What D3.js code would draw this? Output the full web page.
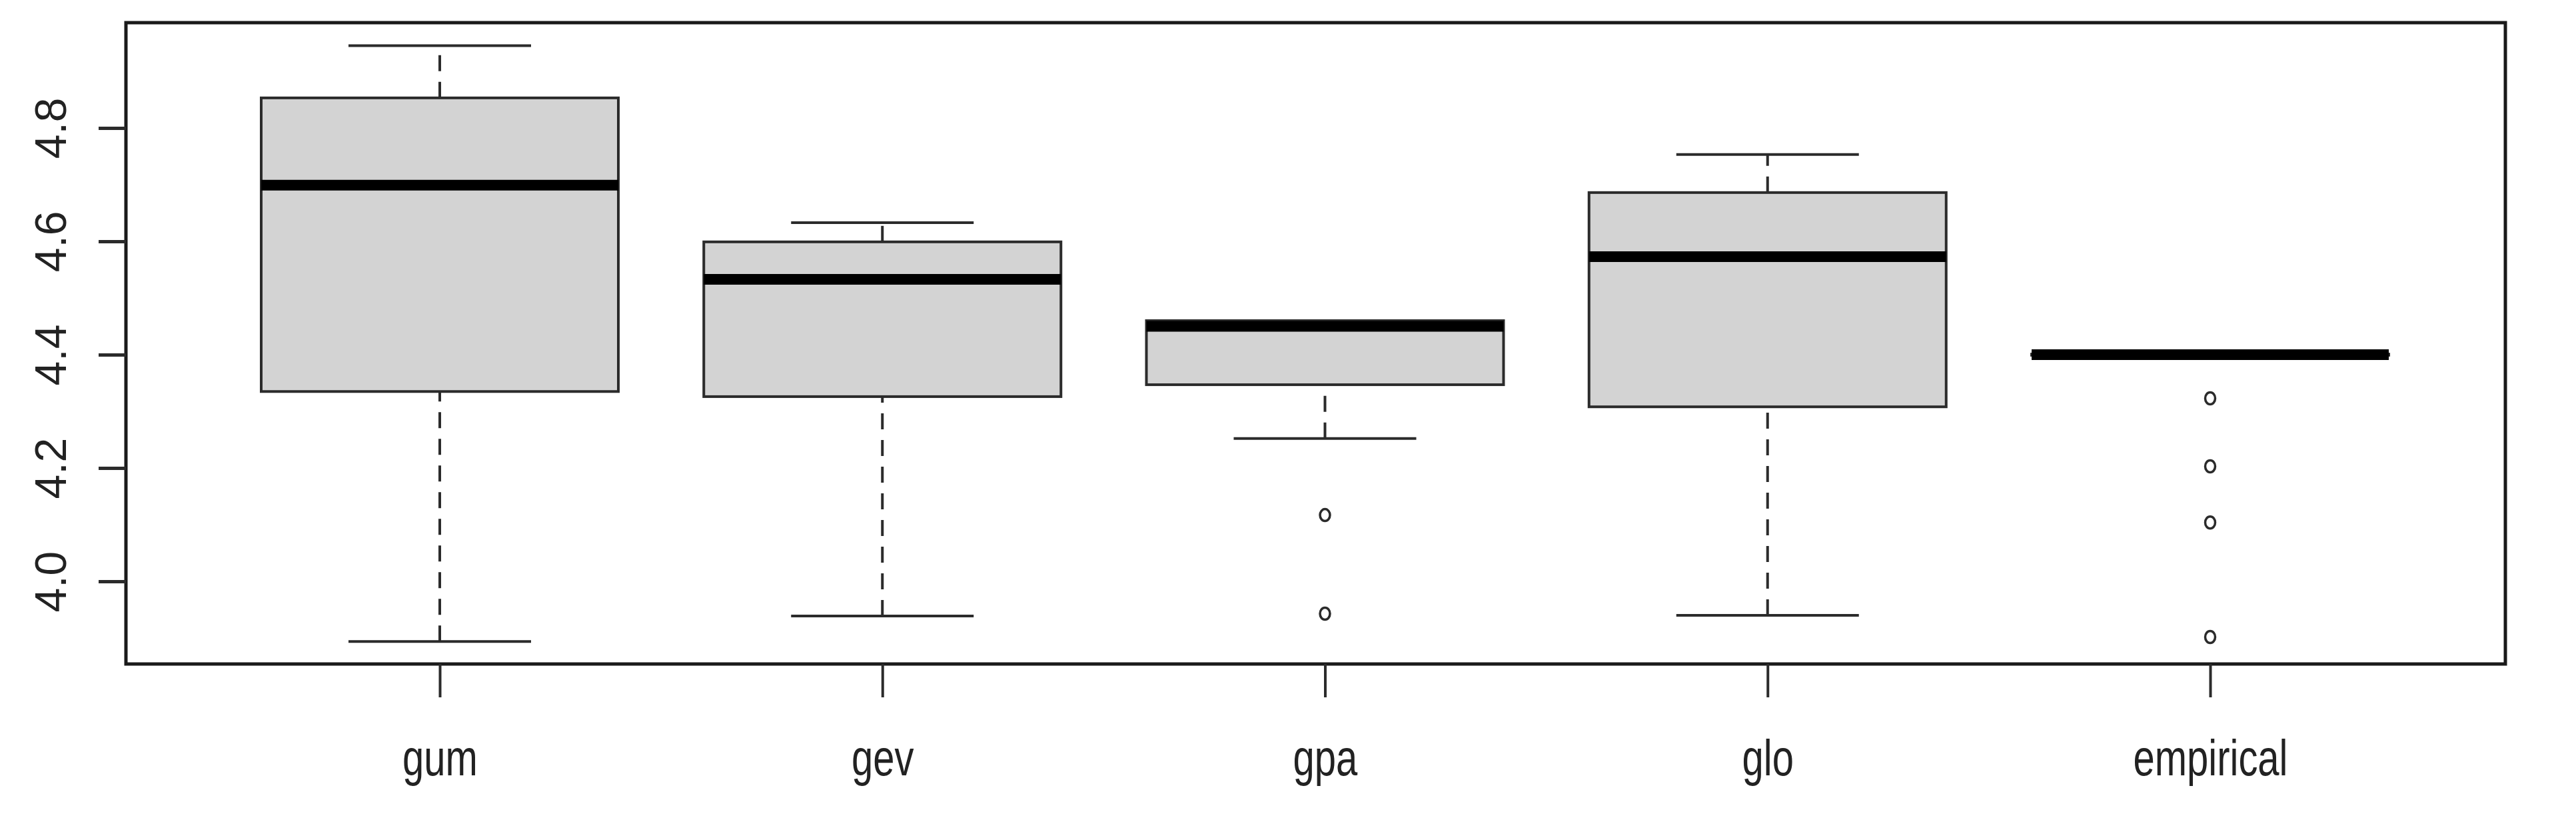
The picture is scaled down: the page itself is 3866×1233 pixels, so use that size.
<!DOCTYPE html>
<html><head><meta charset="utf-8">
<script src="https://cdn.jsdelivr.net/npm/d3@7"></script>
<style>body{margin:0;background:#fff}</style></head>
<body><svg id="c" width="3866" height="1233"></svg>
<script>
const categories = ["gum","gev","gpa","glo","empirical"];
const lowerWhisker = [3.894, 3.939, 4.252, 3.940, 4.399];
const q1 = [4.335, 4.326, 4.347, 4.308, 4.399];
const median = [4.699, 4.533, 4.450, 4.573, 4.400];
const q3 = [4.853, 4.599, 4.460, 4.686, 4.401];
const upperWhisker = [4.945, 4.633, 4.460, 4.753, 4.401];
const outliers = [[], [], [4.117, 3.943], [], [4.323, 4.203, 4.104, 3.902]];
const yTicks = [4.0, 4.2, 4.4, 4.6, 4.8];

const svg = d3.select("#c");
const L = 189, R = 3760, T = 34, B = 996;
const x = d3.scaleLinear().domain([1, 5]).range([660, 3317]);
const y = d3.scaleLinear().domain([4.0, 4.8]).range([872.1, 191.9]);
const bw = 536, sw = 137;
const col = "#2b2b2b";
const font = "Liberation Sans, Arial, sans-serif";

categories.forEach((c, i) => {
  const cx = x(i + 1);
  const g = svg.append("g");
  [[q3[i], upperWhisker[i]], [lowerWhisker[i], q1[i]]].forEach(([a, b]) => {
    if (b - a > 0.001) g.append("line").attr("x1", cx).attr("x2", cx)
      .attr("y1", y(a)).attr("y2", y(b)).attr("stroke", col)
      .attr("stroke-width", 4).attr("stroke-dasharray", "24,16");
  });
  [upperWhisker[i], lowerWhisker[i]].forEach(v => {
    if (i === 4) return;
    g.append("line").attr("x1", cx - sw).attr("x2", cx + sw)
      .attr("y1", y(v)).attr("y2", y(v)).attr("stroke", col).attr("stroke-width", 4);
  });
  g.append("rect").attr("x", cx - bw / 2).attr("width", bw)
    .attr("y", y(q3[i])).attr("height", Math.max(0, y(q1[i]) - y(q3[i])))
    .attr("fill", "#d3d3d3").attr("stroke", col).attr("stroke-width", 4);
  g.append("line").attr("x1", cx - bw / 2).attr("x2", cx + bw / 2)
    .attr("y1", y(median[i])).attr("y2", y(median[i]))
    .attr("stroke", "#000").attr("stroke-width", 16);
  outliers[i].forEach(v => g.append("ellipse").attr("cx", cx).attr("cy", y(v))
    .attr("rx", 7.5).attr("ry", 9).attr("fill", "none").attr("stroke", col).attr("stroke-width", 3.5));
});

svg.append("rect").attr("x", L).attr("y", T).attr("width", R - L).attr("height", B - T)
  .attr("fill", "none").attr("stroke", "#1a1a1a").attr("stroke-width", 5);

const yAxis = d3.axisLeft(y).tickValues(yTicks).tickSize(41).tickFormat(d3.format(".1f"));
const ya = svg.append("g").attr("transform", `translate(${L},0)`).call(yAxis);
ya.select(".domain").remove();
ya.selectAll(".tick line").attr("stroke", col).attr("stroke-width", 5);
ya.selectAll(".tick text").attr("x", 0).attr("dy", 0)
  .attr("transform", `translate(-113,0) rotate(-90)`)
  .attr("text-anchor", "middle").attr("dominant-baseline", "central")
  .attr("font-family", font).attr("font-size", 66).attr("fill", "#222");

const xAxis = d3.axisBottom(x).tickValues([1, 2, 3, 4, 5]).tickSize(50)
  .tickFormat(d => categories[d - 1]);
const xa = svg.append("g").attr("transform", `translate(0,${B})`).call(xAxis);
xa.select(".domain").remove();
xa.selectAll(".tick line").attr("stroke", col).attr("stroke-width", 4);
xa.selectAll(".tick text").attr("y", 0).attr("dy", 0)
  .attr("transform", "translate(0,167) scale(1,1.3)")
  .attr("font-family", font).attr("font-size", 58).attr("fill", "#222");
</script></body></html>
